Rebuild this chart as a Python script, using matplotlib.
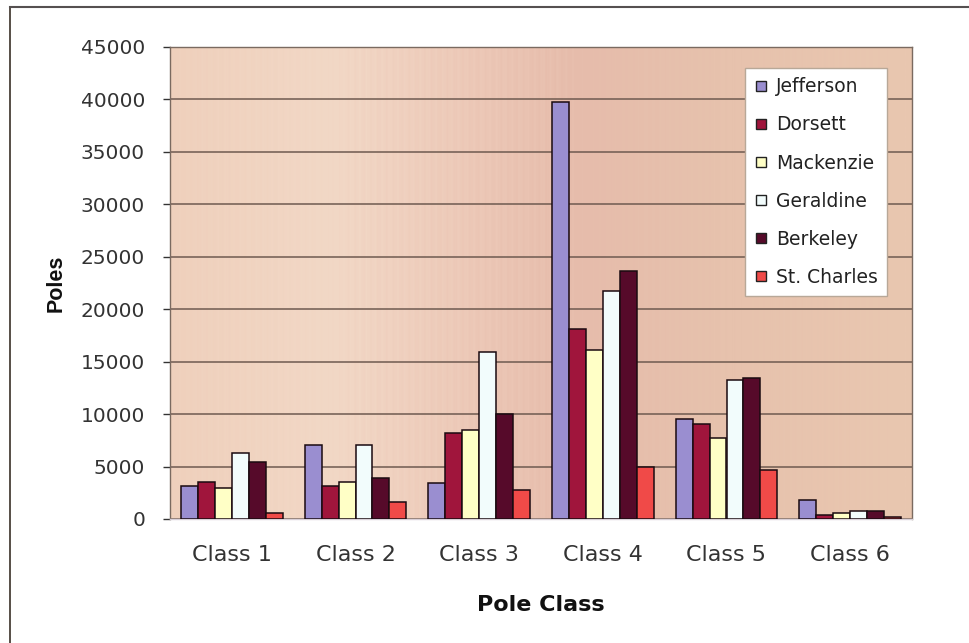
import numpy as np
import matplotlib
matplotlib.use("Agg")
import matplotlib.pyplot as plt
from matplotlib.colors import LinearSegmentedColormap
from matplotlib.lines import Line2D

plt.rcParams["font.family"] = ["DejaVu Sans"]

# pole counts per class for each district
classes = ["Class 1", "Class 2", "Class 3", "Class 4", "Class 5", "Class 6"]
districts = ["Jefferson", "Dorsett", "Mackenzie", "Geraldine", "Berkeley", "St. Charles"]

jefferson = [3170, 7080, 3400, 39780, 9520, 1850]
dorsett = [3500, 3150, 8230, 18080, 9040, 410]
mackenzie = [2990, 3500, 8480, 16110, 7770, 580]
geraldine = [6320, 7020, 15950, 21770, 13260, 770]
berkeley = [5400, 3940, 9980, 23680, 13490, 800]
st_charles = [540, 1620, 2760, 4990, 4700, 220]

series = [jefferson, dorsett, mackenzie, geraldine, berkeley, st_charles]
colors = ["#9a8ed0", "#a0153c", "#ffffc6", "#f2fcfc", "#560a2a", "#f04a48"]

yticks = list(range(0, 45001, 5000))

fig = plt.figure(figsize=(9.69, 6.43), dpi=100)
fig.patch.set_facecolor("white")
ax = fig.add_axes([170 / 969, 124 / 643, 742 / 969, 472 / 643])

# warm wood-like gradient behind the bars, with faint vertical grain
bg = LinearSegmentedColormap.from_list(
    "wood",
    [(0.0, "#efd0bc"), (0.22, "#f2d8c6"), (0.42, "#ecc7b6"), (0.55, "#e6bcab"),
     (0.75, "#e7c2ad"), (1.0, "#e9c7b0")])
u = np.linspace(0, 1, 900)
grain = 0.018 * np.sin(u * 2 * np.pi * 97) + 0.012 * np.sin(u * 2 * np.pi * 233 + 1.3)
ax.imshow(np.clip(u + grain, 0, 1).reshape(1, -1), cmap=bg, aspect="auto",
          extent=[-0.5, 5.5, 0, 45000], zorder=0, interpolation="bilinear")

x = np.arange(len(classes))
w = 0.137
for i, (vals, name, c) in enumerate(zip(series, districts, colors)):
    ax.bar(x + (i - 2.5) * w, vals, width=w, color=c, edgecolor="#1a0a10",
           linewidth=1.1, label=name, zorder=3)

ax.set_xlim(-0.5, 5.5)
ax.set_ylim(0, 45000)
ax.set_yticks(yticks)
ax.set_yticklabels([str(v) for v in yticks])
ax.set_xticks(x)
ax.set_xticklabels(classes)
ax.tick_params(axis="y", labelsize=14.5, length=5, width=1, pad=13, colors="#333333")
ax.tick_params(axis="x", labelsize=16, length=0, pad=19, colors="#333333")
ax.yaxis.grid(True, color="#6e5a50", linewidth=1.1, zorder=1)
ax.set_axisbelow(True)
for s in ax.spines.values():
    s.set_color("#7a6a60")
    s.set_linewidth(1.0)
ax.spines["bottom"].set_color("#d8d0d8")

ax.set_ylabel("Poles", fontsize=15.5, fontweight="bold", labelpad=10,
              family="Liberation Sans", color="#111111")
ax.set_xlabel("Pole Class", fontsize=16, fontweight="bold", labelpad=21,
              color="#111111")

handles = [Line2D([0], [0], marker="s", linestyle="none", markersize=7.5,
                  markerfacecolor=c, markeredgecolor="#222222", markeredgewidth=1.0)
           for c in colors]
leg = ax.legend(handles, districts, loc="upper left",
                bbox_to_anchor=((745 - 170) / 742, (519 - 68) / 472),
                fontsize=13.5, frameon=True, fancybox=False, labelspacing=1.02,
                handlelength=0.7, handletextpad=0.45, borderpad=0.5,
                borderaxespad=0, labelcolor="#222222")
leg.get_frame().set_facecolor("white")
leg.get_frame().set_edgecolor("#b8a898")
leg.get_frame().set_alpha(1)
leg.set_zorder(5)

# outer chart frame
fig.add_artist(Line2D([10 / 969, 10 / 969], [0, 1 - 7 / 643], color="#3a3028",
                      linewidth=1.2, transform=fig.transFigure))
fig.add_artist(Line2D([10 / 969, 1], [1 - 7 / 643, 1 - 7 / 643], color="#555050",
                      linewidth=1.5, transform=fig.transFigure))

fig.savefig("out.png", dpi=100)
